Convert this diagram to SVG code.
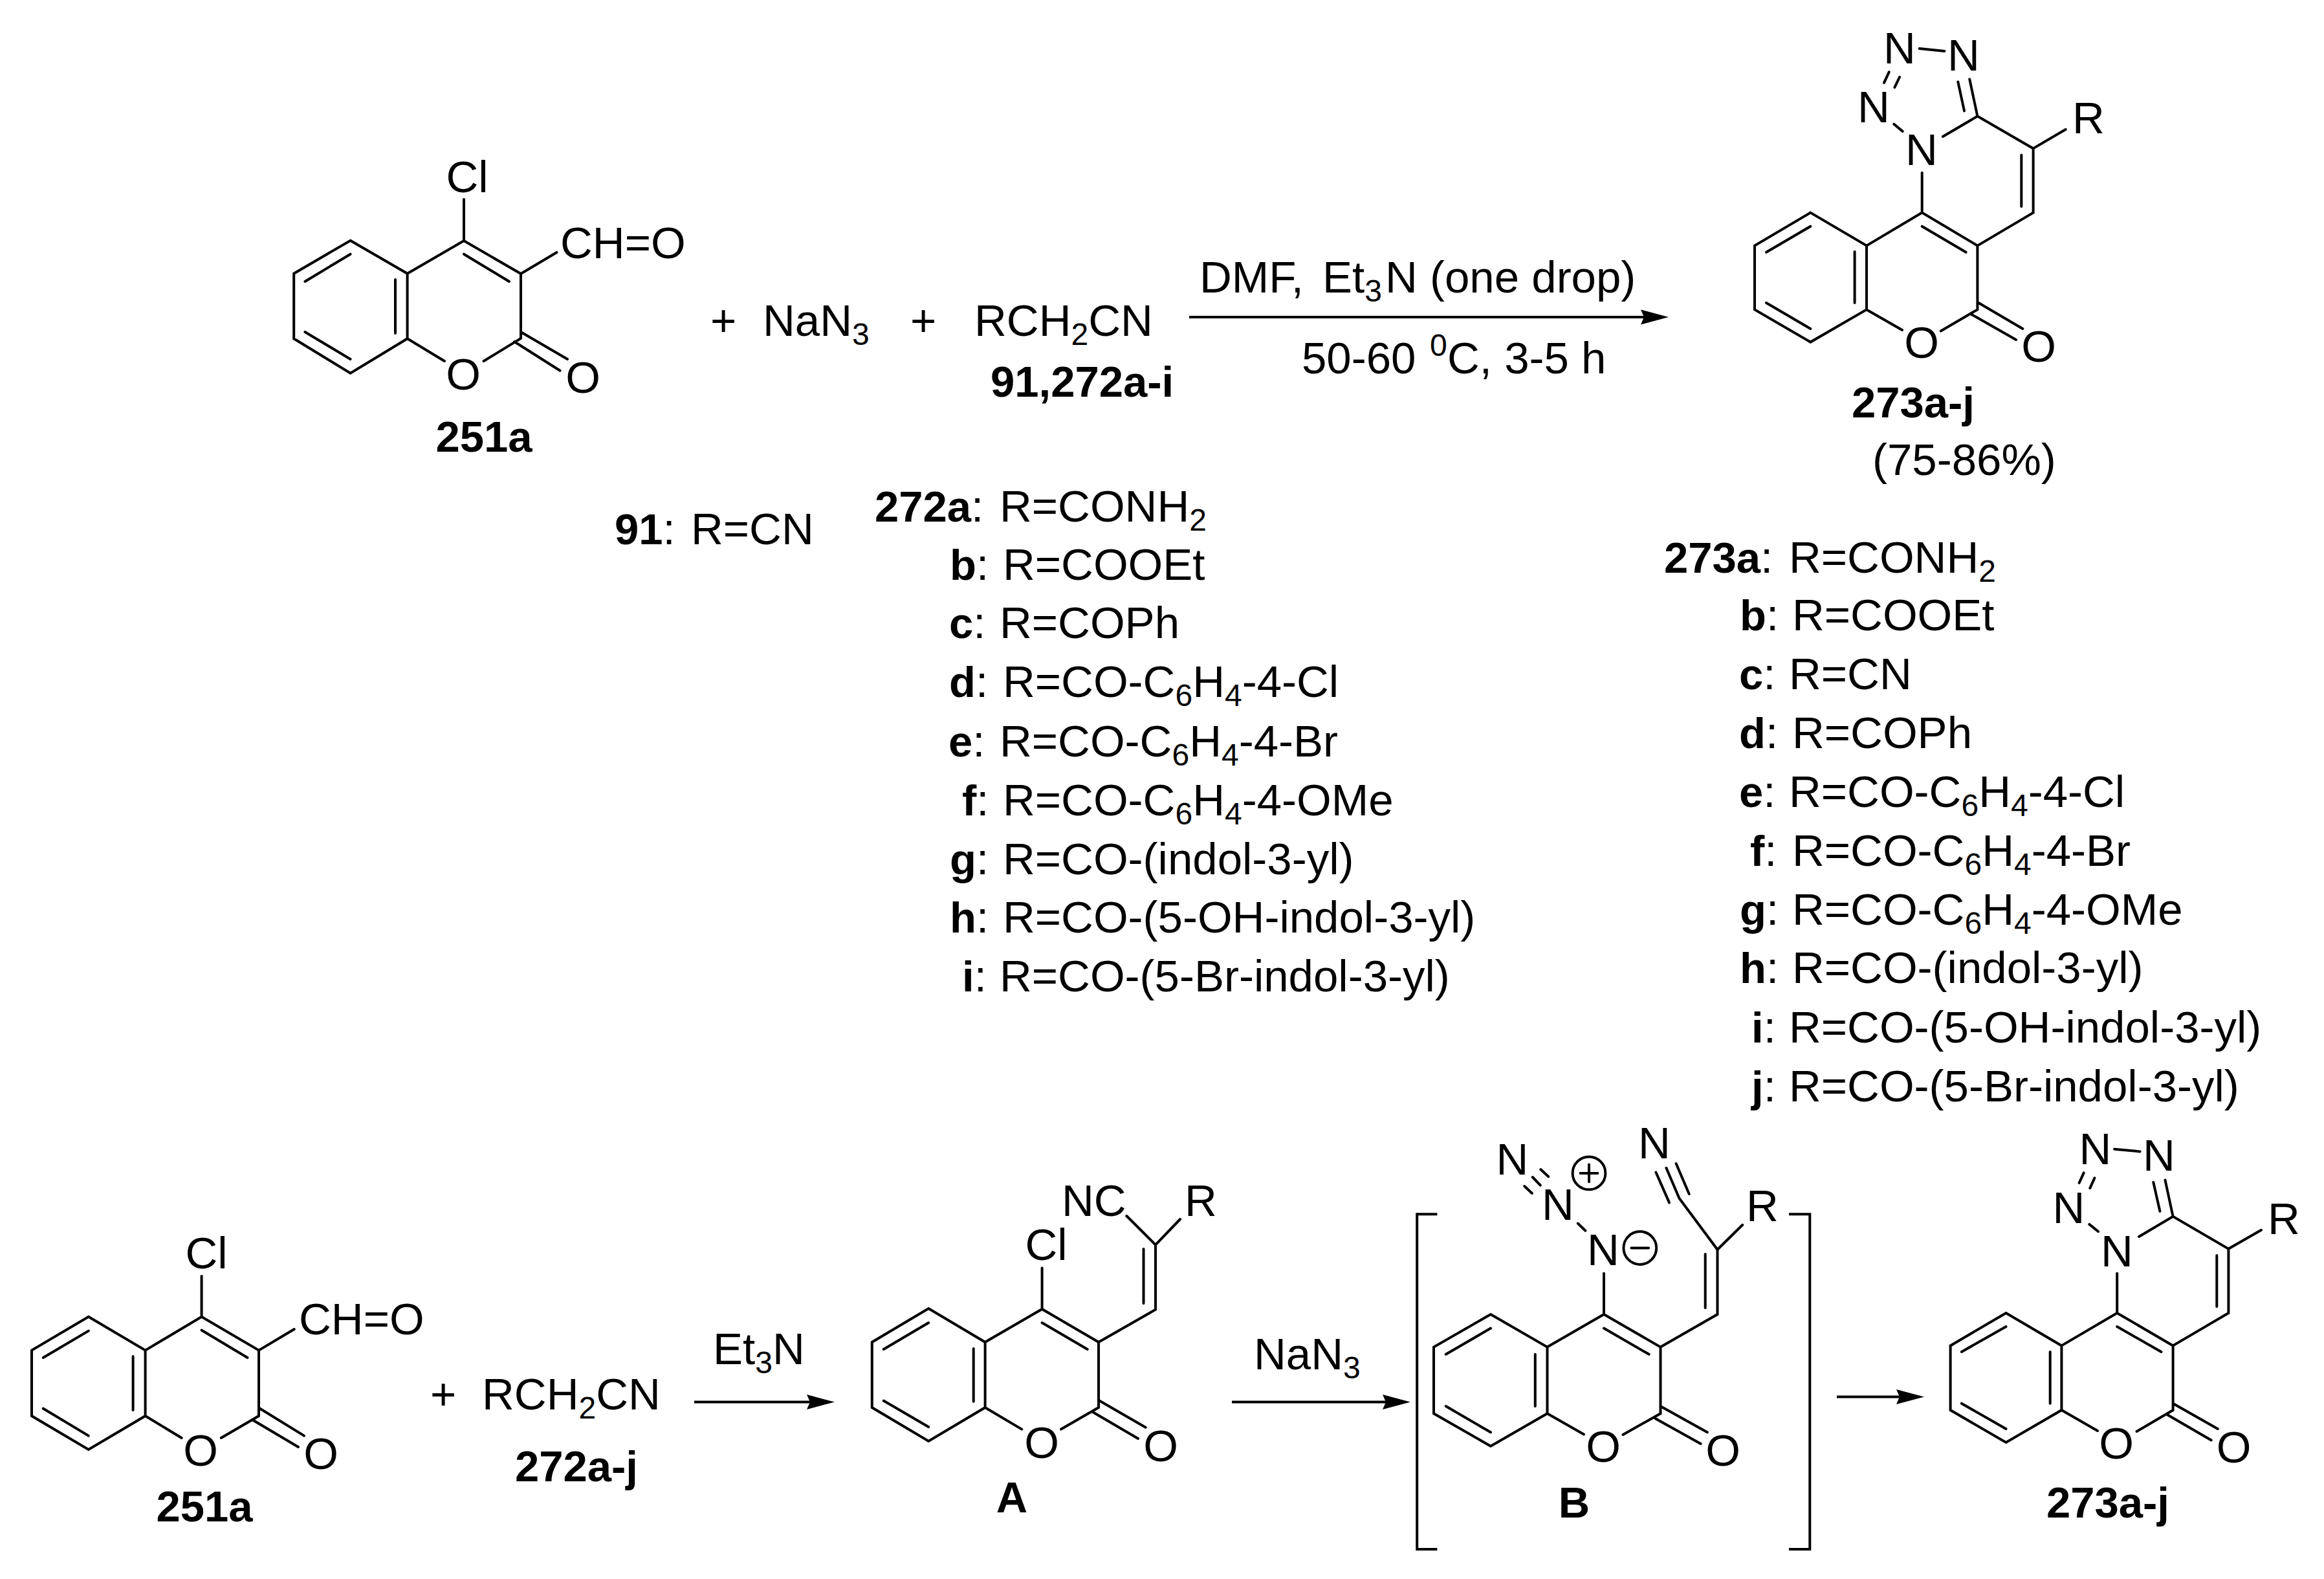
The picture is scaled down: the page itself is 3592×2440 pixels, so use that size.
<svg xmlns="http://www.w3.org/2000/svg" width="3592" height="2440" viewBox="0 0 3592 2440">
<style>
text{font-family:"Liberation Sans",Arial,sans-serif;font-size:69px;fill:#000}
.c{text-anchor:middle}
.bd{font-weight:700;font-size:67px}
.s{font-size:48px}
.b{fill:none;stroke:#000;stroke-width:4;stroke-linecap:round;stroke-linejoin:miter}
.br{fill:none;stroke:#000;stroke-width:4}
.ar{fill:none;stroke:#000;stroke-width:4;marker-end:url(#head)}
</style>
<defs>
<marker id="head" markerUnits="userSpaceOnUse" markerWidth="46" markerHeight="26" viewBox="0 0 46 26" refX="10" refY="13" orient="auto">
<path d="M1 1.5L44 13L1 24.500L6 13Z" fill="#000"/>
</marker>
</defs>
<rect width="3592" height="2440" fill="#fff"/>

<g id="compound-251a-top">
<path class="b" d="M541.600 371.700L629.600 422.700L629.600 523.300L541.600 576.700L454.200 523.300L454.200 422.700ZM629.600 422.700L717 372L805 423L805 523L747.600 558M629.600 523.300L687 558M717 372V308M805 423L860.500 390M541.600 392.700L471.400 435M611 432V515M471.400 513L541.600 555M717 392.700L787 435M805 513L877 555M795 528L865.600 572.700"/>
<text class="c" x="722" y="297">Cl</text>
<text x="866" y="399">CH=O</text>
<text class="c" x="716" y="602">O</text>
<text class="c" x="901" y="607">O</text>
<text class="c bd" x="748" y="698">251a</text>
</g>

<g id="reagents-top">
<text x="1098" y="519">+</text>
<text x="1179" y="519">NaN<tspan class="s" dy="14">3</tspan></text>
<text x="1407" y="519">+</text>
<text x="1506" y="519">RCH<tspan class="s" dy="14">2</tspan><tspan dy="-14">CN</tspan></text>
<text class="bd" x="1531" y="613">91,272a-i</text>
</g>

<g id="conditions-top">
<text x="1854" y="452">DMF,<tspan x="2044">Et</tspan><tspan class="s" dy="14">3</tspan><tspan dy="-14" x="2141">N (one drop)</tspan></text>
<text x="2012" y="577">50-60<tspan class="s" x="2210" dy="-27">0</tspan><tspan dy="27" x="2237">C, 3-5 h</tspan></text>
</g>

<g id="compound-273-top">
<path class="b" d="M2798.300 328.600L2885 379.600L2885 478.400L2798.300 528.600L2712 478.400L2712 379.600ZM2885 379.600L2970.700 328.600L3056.400 379.600L3056.400 478.400L2999.800 511.400M2885 478.400L2940 510M3056.400 379.600L3142.600 328.600L3142.600 229.400L3056.400 179.600L3002.900 211M2970.700 328.600V267M3142.600 229.400L3192.700 200M3124.300 239.600V319M2970.700 349.800L3038.600 389.800M2798.300 349.800L2730 389.800M2866.600 389V468M2730 468L2798.300 508M3056.400 467L3126.300 508M3047 485.700L3116 525M2927.300 191.800L2940.600 202.900M2919.700 111.400L2912 127.800M2936 119L2928.400 135M2966.600 75L3005.400 79M3044.200 122.400L3056.400 179.600M3026.300 126.500L3036 171.400"/>
<text class="c" x="2936" y="98">N</text>
<text class="c" x="3035" y="109">N</text>
<text class="c" x="2896" y="189">N</text>
<text class="c" x="2970" y="255">N</text>
<text x="3203" y="206">R</text>
<text class="c" x="2970" y="553">O</text>
<text class="c" x="3151" y="559">O</text>
<text class="c bd" x="2957" y="645">273a-j</text>
<text x="2894" y="734">(75-86%)</text>
</g>

<g id="list-272">
<text x="950" y="841"><tspan class="bd">91</tspan>:<tspan x="1068">R=CN</tspan></text>
<text x="1352" y="806"><tspan class="bd">272a</tspan>:<tspan x="1545">R=CONH</tspan><tspan class="s" dy="14">2</tspan></text>
<text x="1468" y="896"><tspan class="bd">b</tspan>:<tspan x="1550">R=COOEt</tspan></text>
<text x="1467" y="986"><tspan class="bd">c</tspan>:<tspan x="1545">R=COPh</tspan></text>
<text x="1467" y="1077"><tspan class="bd">d</tspan>:<tspan x="1550">R=CO-C</tspan><tspan class="s" dy="14">6</tspan><tspan dy="-14">H</tspan><tspan class="s" dy="14">4</tspan><tspan dy="-14">-4-Cl</tspan></text>
<text x="1466" y="1169"><tspan class="bd">e</tspan>:<tspan x="1545">R=CO-C</tspan><tspan class="s" dy="14">6</tspan><tspan dy="-14">H</tspan><tspan class="s" dy="14">4</tspan><tspan dy="-14">-4-Br</tspan></text>
<text x="1487" y="1260"><tspan class="bd">f</tspan>:<tspan x="1550">R=CO-C</tspan><tspan class="s" dy="14">6</tspan><tspan dy="-14">H</tspan><tspan class="s" dy="14">4</tspan><tspan dy="-14">-4-OMe</tspan></text>
<text x="1468" y="1351"><tspan class="bd">g</tspan>:<tspan x="1550">R=CO-(indol-3-yl)</tspan></text>
<text x="1468" y="1441"><tspan class="bd">h</tspan>:<tspan x="1550">R=CO-(5-OH-indol-3-yl)</tspan></text>
<text x="1487" y="1532"><tspan class="bd">i</tspan>:<tspan x="1545">R=CO-(5-Br-indol-3-yl)</tspan></text>
</g>

<g id="list-273">
<text x="2572" y="885"><tspan class="bd">273a</tspan>:<tspan x="2765">R=CONH</tspan><tspan class="s" dy="14">2</tspan></text>
<text x="2689" y="974"><tspan class="bd">b</tspan>:<tspan x="2770">R=COOEt</tspan></text>
<text x="2688" y="1065"><tspan class="bd">c</tspan>:<tspan x="2765">R=CN</tspan></text>
<text x="2688" y="1156"><tspan class="bd">d</tspan>:<tspan x="2770">R=COPh</tspan></text>
<text x="2688" y="1247"><tspan class="bd">e</tspan>:<tspan x="2765">R=CO-C</tspan><tspan class="s" dy="14">6</tspan><tspan dy="-14">H</tspan><tspan class="s" dy="14">4</tspan><tspan dy="-14">-4-Cl</tspan></text>
<text x="2705" y="1338"><tspan class="bd">f</tspan>:<tspan x="2770">R=CO-C</tspan><tspan class="s" dy="14">6</tspan><tspan dy="-14">H</tspan><tspan class="s" dy="14">4</tspan><tspan dy="-14">-4-Br</tspan></text>
<text x="2689" y="1429"><tspan class="bd">g</tspan>:<tspan x="2770">R=CO-C</tspan><tspan class="s" dy="14">6</tspan><tspan dy="-14">H</tspan><tspan class="s" dy="14">4</tspan><tspan dy="-14">-4-OMe</tspan></text>
<text x="2689" y="1519"><tspan class="bd">h</tspan>:<tspan x="2770">R=CO-(indol-3-yl)</tspan></text>
<text x="2707" y="1611"><tspan class="bd">i</tspan>:<tspan x="2765">R=CO-(5-OH-indol-3-yl)</tspan></text>
<text x="2707" y="1702"><tspan class="bd">j</tspan>:<tspan x="2765">R=CO-(5-Br-indol-3-yl)</tspan></text>
</g>

<g id="compound-251a-bottom">
<path class="b" d="M136.800 2034.800L224.600 2086.600L224.600 2188L136.800 2240L49 2188L49 2086.600ZM224.600 2086.600L311.600 2034.800L400 2086.600L400 2188L341.800 2222M224.600 2188L280.700 2222M311.600 2034.800V1972M400 2086.600L454.700 2054M136.800 2056.600L66.700 2098M205.600 2096V2179M66.700 2176.500L136.800 2218.600M311.600 2055.500L382.500 2098M400 2175.500L470 2218.600M391 2194.500L461 2236"/>
<text class="c" x="319" y="1960">Cl</text>
<text x="462" y="2062">CH=O</text>
<text class="c" x="310" y="2265">O</text>
<text class="c" x="496" y="2270">O</text>
<text class="c bd" x="316" y="2351">251a</text>
</g>

<g id="reagent-272-bottom">
<text x="665" y="2178">+</text>
<text x="745" y="2178">RCH<tspan class="s" dy="14">2</tspan><tspan dy="-14">CN</tspan></text>
<text class="bd" x="796" y="2289">272a-j</text>
</g>

<g id="compound-A">
<path class="b" d="M1435.200 2022L1522.600 2074L1522.600 2175L1435.200 2227L1347.800 2175L1347.800 2074ZM1522.600 2074L1610.600 2022.900L1698 2074L1698 2175L1640 2208.600M1522.600 2175L1579.300 2208.600M1698 2074L1786 2023.700V1923.700L1741.300 1879M1786 1923.700L1824 1884M1610.600 2022.900V1959.600M1767.500 1930V2014M1610.600 2044L1680.700 2085M1435.200 2044L1365.700 2085M1504.700 2084V2165.700M1365.700 2164.500L1435.200 2205M1698 2163.700L1770.700 2205.700M1689 2182L1759 2222.900"/>
<text x="1641" y="1879">NC</text>
<text x="1831" y="1879">R</text>
<text class="c" x="1617" y="1947">Cl</text>
<text class="c" x="1610" y="2253">O</text>
<text class="c" x="1794" y="2258">O</text>
<text class="c bd" x="1564" y="2337">A</text>
</g>

<g id="compound-B">
<path class="br" d="M2221.400 1876.300H2190.200V2394H2221.400M2765 1876.300H2797.300V2394H2765"/>
<path class="b" d="M2304 2031L2391.500 2081.600L2391.500 2184.300L2304 2234.700L2216 2184.300L2216 2081.600ZM2391.500 2081.600L2479 2031L2566.500 2081.600L2566.500 2184.300L2508.500 2216.900M2391.500 2184.300L2448 2216.400M2566.500 2081.600L2654.500 2031V1931L2595.500 1851.700L2575.400 1804.800M2580 1858.400L2559.400 1811.500M2610.700 1845L2590.600 1798M2654.500 1931L2693.300 1892.800M2635.700 1937.900V2021M2479 2052.600L2548.700 2092.800M2304 2052.600L2234.800 2092.800M2372.800 2092.800V2173M2234.800 2173L2304 2213.300M2566.500 2173L2638.800 2213.300M2558.500 2191.900L2628.600 2231M2479 2031V1967.800M2438.800 1890.500L2450.400 1901.700M2356.300 1833L2367.900 1844M2368.800 1819L2380.800 1831.600M2381.300 1807L2393.300 1818.200"/>
<circle class="b" cx="2534.800" cy="1928.500" r="25.400"/>
<path class="b" d="M2521.400 1928.500H2548.200"/>
<circle class="b" cx="2456" cy="1812.900" r="25.400"/>
<path class="b" d="M2442.600 1812.900H2469.400M2456 1799.500V1826.300"/>
<text class="c" x="2337.500" y="1815">N</text>
<text class="c" x="2408" y="1885">N</text>
<text class="c" x="2478" y="1955">N</text>
<text class="c" x="2557" y="1790">N</text>
<text x="2699" y="1887">R</text>
<text class="c" x="2478" y="2259">O</text>
<text class="c" x="2663" y="2265">O</text>
<text class="c bd" x="2433" y="2345">B</text>
</g>

<g id="compound-273-bottom">
<path class="b" d="M3100.500 2029L3186.400 2079.400L3186.400 2179L3100.500 2229L3014.600 2179L3014.600 2079.400ZM3186.400 2079.400L3272.200 2029L3358.600 2079.400L3358.600 2179L3302.500 2212M3186.400 2179L3242 2211M3358.600 2079.400L3444.400 2029V1929.800L3358.600 1879.800L3306 1911M3272.200 2029V1967.800M3444.400 1929.800L3495 1900.800M3426.300 1940V2019M3272.200 2050L3340.400 2089M3100.500 2050L3031.800 2089M3168.700 2089V2168.700M3031.800 2168.700L3100.500 2208M3358.600 2168.700L3427.800 2208M3350.500 2186.500L3417.700 2225.400M3229.300 1891.900L3243 1903M3220.700 1812.400L3213.600 1828M3237.400 1820.400L3230.300 1836M3268.200 1775.800L3307.600 1779.400M3346.500 1823.600L3358.600 1879.800M3328.300 1827L3338.400 1871.800"/>
<text class="c" x="3238.400" y="1799">N</text>
<text class="c" x="3337" y="1809">N</text>
<text class="c" x="3197.500" y="1890">N</text>
<text class="c" x="3272" y="1957">N</text>
<text x="3505" y="1907">R</text>
<text class="c" x="3271" y="2254">O</text>
<text class="c" x="3452.500" y="2260">O</text>
<text class="c bd" x="3258" y="2345">273a-j</text>
</g>

<g id="labels-bottom-arrows">
<text x="1102" y="2108">Et<tspan class="s" dy="14">3</tspan><tspan dy="-14">N</tspan></text>
<text x="1938" y="2116">NaN<tspan class="s" dy="14">3</tspan></text>
</g>

<g id="connectors">
<line class="ar" x1="1838" y1="490" x2="2545" y2="490"/>
<line class="ar" x1="1073" y1="2166.500" x2="1256" y2="2166.500"/>
<line class="ar" x1="1904" y1="2166.500" x2="2146" y2="2166.500"/>
<line class="ar" x1="2839" y1="2158.500" x2="2940" y2="2158.500"/>
</g>
</svg>
